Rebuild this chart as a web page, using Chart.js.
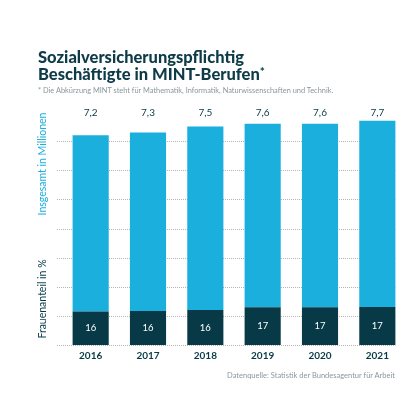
<!DOCTYPE html>
<html>
<head>
<meta charset="utf-8">
<script src="https://cdn.jsdelivr.net/npm/chart.js@4"></script>
<style>
  body { margin: 0; background: #fff; }
  #wrap { position: relative; width: 420px; height: 420px; font-family: Lato, sans-serif; }
  #chart { position: absolute; left: 0; top: 0; }
  .title { position: absolute; left: 38px; top: 49px; font-weight: 900; font-size: 16.5px; line-height: 17px; color: #0d3b48; }
  .title sup { font-size: 12px; vertical-align: 4px; line-height: 0; }
  .note { position: absolute; left: 38px; top: 86px; font-size: 7.4px; color: #8a979c; }
  .source { position: absolute; right: 25px; top: 371px; font-size: 7.5px; color: #8a979c; }
</style>
</head>
<body>
<div id="wrap">
  <canvas id="chart" width="420" height="420"></canvas>
  <div class="title">Sozialversicherungspflichtig<br>Beschäftigte in MINT-Berufen<sup>*</sup></div>
  <div class="note">* Die Abkürzung MINT steht für Mathematik, Informatik, Naturwissenschaften und Technik.</div>
  <div class="source">Datenquelle: Statistik der Bundesagentur für Arbeit</div>
</div>
<script>
// Jahre, Beschäftigte insgesamt (Mio.) und Frauenanteil (%)
const years = ['2016', '2017', '2018', '2019', '2020', '2021'];
const totalMillions = [7.2, 7.3, 7.5, 7.6, 7.6, 7.7];
const womenShare = [16, 16, 16, 17, 17, 17];
const totalLabels = ['7,2', '7,3', '7,5', '7,6', '7,6', '7,7'];

const lightBlue = '#1aafdc';
const darkTeal = '#073a46';

const womenMillions = totalMillions.map((t, i) => t * womenShare[i] / 100);
const restMillions = totalMillions.map((t, i) => t - womenMillions[i]);

// gepunktete Rasterlinien, Achsentitel und Werte
const decorations = {
  id: 'decorations',
  beforeDatasetsDraw(chart) {
    const { ctx, scales: { y } } = chart;
    const meta = chart.getDatasetMeta(0);
    const lastBar = meta.data[meta.data.length - 1];
    const right = lastBar.x + lastBar.width / 2;
    ctx.save();
    ctx.strokeStyle = '#b5b5b5';
    ctx.lineWidth = 1;
    ctx.setLineDash([1, 1]);
    for (let v = 0; v <= 7; v++) {
      const py = Math.round(y.getPixelForValue(v)) + 0.5;
      ctx.beginPath();
      ctx.moveTo(57, py);
      ctx.lineTo(right, py);
      ctx.stroke();
    }
    ctx.restore();
  },
  afterDatasetsDraw(chart) {
    const { ctx } = chart;
    const dark = chart.getDatasetMeta(0);
    ctx.save();
    ctx.textAlign = 'center';
    ctx.textBaseline = 'middle';
    dark.data.forEach((bar, i) => {
      ctx.fillStyle = '#ffffff';
      ctx.font = '9.5px Lato';
      ctx.fillText(String(womenShare[i]), bar.x, (bar.y + bar.base) / 2);
      ctx.fillStyle = darkTeal;
      ctx.font = '10px Lato';
      ctx.fillText(totalLabels[i], bar.x, 113);
    });
    ctx.translate(43, 0);
    ctx.rotate(-Math.PI / 2);
    ctx.font = '10.5px Lato';
    ctx.fillStyle = lightBlue;
    ctx.fillText('Insgesamt in Millionen', -164, 0);
    ctx.fillStyle = darkTeal;
    ctx.fillText('Frauenanteil in %', -299, 0);
    ctx.restore();
  }
};

new Chart(document.getElementById('chart'), {
  type: 'bar',
  data: {
    labels: years,
    datasets: [
      { label: 'Frauen', data: womenMillions, backgroundColor: darkTeal },
      { label: 'Männer', data: restMillions, backgroundColor: lightBlue }
    ]
  },
  options: {
    responsive: false,
    animation: false,
    layout: { padding: { left: 62, right: 14, top: 112, bottom: 53 } },
    plugins: { legend: { display: false }, tooltip: { enabled: false } },
    datasets: { bar: { categoryPercentage: 1, barPercentage: 0.63 } },
    scales: {
      x: {
        stacked: true,
        grid: { display: false, drawTicks: false },
        border: { display: false },
        ticks: { color: darkTeal, font: { family: 'Lato', size: 10, weight: 'bold' }, padding: 5 }
      },
      y: {
        stacked: true,
        display: false,
        min: 0,
        max: 8
      }
    }
  },
  plugins: [decorations]
});
</script>
</body>
</html>
